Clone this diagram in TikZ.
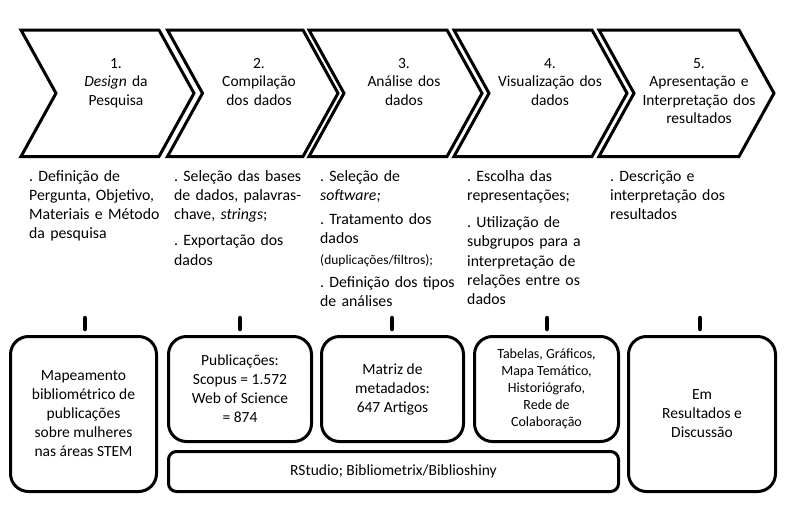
\documentclass[tikz,border=0pt]{standalone}
\usepackage{fontspec}
\setmainfont{Carlito}
\frenchspacing
\begin{document}
\begin{tikzpicture}[x=1pt,y=-1pt,
  chev/.style={draw=black, line width=3pt, line join=miter, miter limit=10},
  chevtext/.style={font=\fontsize{15.5}{18.5}\selectfont, align=center, anchor=base, inner sep=0pt, text width=140pt},
  bullets/.style={font=\fontsize{15.8}{19.3}\selectfont, align=left, anchor=base west, inner sep=0pt, text width=150pt},
  rbox/.style={draw=black, line width=3pt, rounded corners=18pt, inner sep=0pt, align=center, font=\fontsize{15.5}{19}\selectfont},
  tick/.style={line width=4.5pt, line cap=round}
]
\useasboundingbox (0,0) rectangle (800,523);
\fill[white] (0,0) rectangle (800,523);

% chevrons
\foreach \L/\R in {21/159, 167.5/303, 309/447, 454/592, 599/739}{
  \draw[chev] (\L,30) -- (\R,30) -- (\R+35,93.25) -- (\R,156.5) -- (\L,156.5) -- (\L+35,93.25) -- cycle;
}
\node[chevtext] (c1) at (116,68) {1.\\ \textit{Design} da\\ Pesquisa};
\node[chevtext] (c2) at (259,68) {2.\\ Compilação\\ dos dados};
\node[chevtext] (c3) at (404,68) {3.\\ Análise dos\\ dados};
\node[chevtext] (c4) at (550,68) {4.\\ Visualização dos\\ dados};
\node[chevtext] (c5) at (699,68) {5.\\ Apresentação e\\ Interpretação dos\\ resultados};

% bullet texts
\node[bullets] (l1) at (29,181) {. Definição de\\ Pergunta, Objetivo,\\ Materiais e Método\\ da pesquisa};
\node[bullets] (l2) at (174,181) {. Seleção das bases\\ de dados, palavras-\\ chave, \textit{strings};\\[7pt] . Exportação dos\\ dados};
\node[bullets] (l3) at (320,181) {. Seleção de\\ \textit{software;}\\[5pt] . Tratamento dos\\ dados\\[1pt] {\fontsize{13.5}{15}\selectfont (duplicações/filtros);}\\[4pt] . Definição dos tipos\\ de análises};
\node[bullets] (l4) at (467,181) {. Escolha das\\ representações;\\[8pt] . Utilização de\\ subgrupos para a\\ interpretação de\\ relações entre os\\ dados};
\node[bullets] (l5) at (610,181) {. Descrição e\\ interpretação dos\\ resultados};

% bottom boxes
\node[rbox, minimum width=146pt, minimum height=155pt] (b1) at (83.5,414) {Mapeamento\\ bibliométrico de\\ publicações\\ sobre mulheres\\ nas áreas STEM};
\node[rbox, minimum width=143pt, minimum height=105pt] (b2) at (240,389) {Publicações:\\ Scopus = 1.572\\ Web of Science\\ = 874};
\node[rbox, minimum width=142pt, minimum height=105pt] (b3) at (392.5,389) {Matriz de\\ metadados:\\ 647 Artigos};
\node[rbox, minimum width=144pt, minimum height=105pt, font=\fontsize{14}{17}\selectfont] (b4) at (546.5,389) {Tabelas, Gráficos,\\ Mapa Temático,\\ Historiógrafo,\\ Rede de\\ Colaboração};
\node[rbox, minimum width=147pt, minimum height=155pt] (b5) at (702,414) {Em\\ Resultados e\\ Discussão};
\node[rbox, rounded corners=8pt, minimum width=450pt, minimum height=40pt] (b6) at (393.5,471.5) {RStudio; Bibliometrix/Biblioshiny};

% ticks
\foreach \i/\x in {1/85, 2/240, 3/392, 4/547, 5/700}{
  \coordinate (ta\i) at (\x,318);
  \coordinate (tb\i) at (\x,329);
  \draw[tick] (ta\i) -- (tb\i);
}
\end{tikzpicture}
\end{document}
